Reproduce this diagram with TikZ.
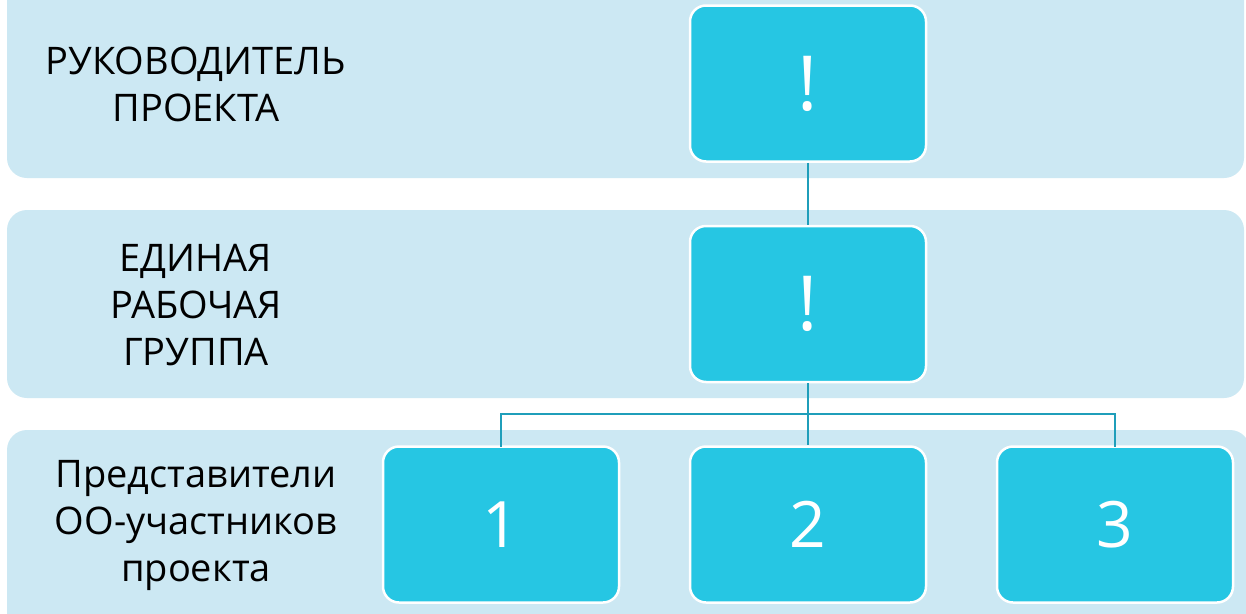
\documentclass[tikz,border=0pt]{standalone}
\usepackage{fontspec}
\setmainfont{Open Sans}
\definecolor{bandc}{HTML}{CCE8F3}
\definecolor{boxc}{HTML}{26C6E3}
\definecolor{linec}{HTML}{1F9EBA}
\begin{document}
\begin{tikzpicture}[x=1pt,y=-1pt,
  band/.style={fill=bandc,draw=none,rounded corners=20pt},
  boxn/.style={fill=boxc,draw=white,line width=2.5pt,rounded corners=16pt,minimum width=236pt,minimum height=156pt,text=white,inner sep=0pt},
  lbl/.style={align=center,font=\fontsize{38}{47}\selectfont,text=black},
  conn/.style={draw=linec,line width=2.6pt}]
\useasboundingbox (0,0) rectangle (1246,613);
\fill[white] (0,0) rectangle (1246,613);
\path[band] (7,-30) rectangle (1244,178);
\path[band] (7,210) rectangle (1244,398);
\path[band] (7,430) rectangle (1250,640);
\node[lbl] (t1) at (196,84) {РУКОВОДИТЕЛЬ\\ПРОЕКТА};
\node[lbl] (t2) at (196,305) {ЕДИНАЯ\\РАБОЧАЯ\\ГРУППА};
\node[lbl] (t3) at (196,525) {Представители\\ОО-участников\\проекта};
\node[boxn,font=\fontsize{76}{76}\selectfont] (b0) at (808,83.5) {!};
\node[boxn,font=\fontsize{76}{76}\selectfont] (b1) at (808,304) {!};
\node[boxn,font=\fontsize{64}{64}\selectfont] (c1) at (501,524.5) {1};
\node[boxn,font=\fontsize{64}{64}\selectfont] (c2) at (808,524.5) {2};
\node[boxn,font=\fontsize{64}{64}\selectfont] (c3) at (1115,524.5) {3};
\coordinate (j) at (808,414);
\draw[conn] (b0.south) -- (b1.north);
\draw[conn] (b1.south) -- (j);
\draw[conn,line cap=rect] (j) -| (c1.north);
\draw[conn,line cap=rect] (j) -| (c3.north);
\draw[conn] (j) -- (c2.north);
\end{tikzpicture}
\end{document}
